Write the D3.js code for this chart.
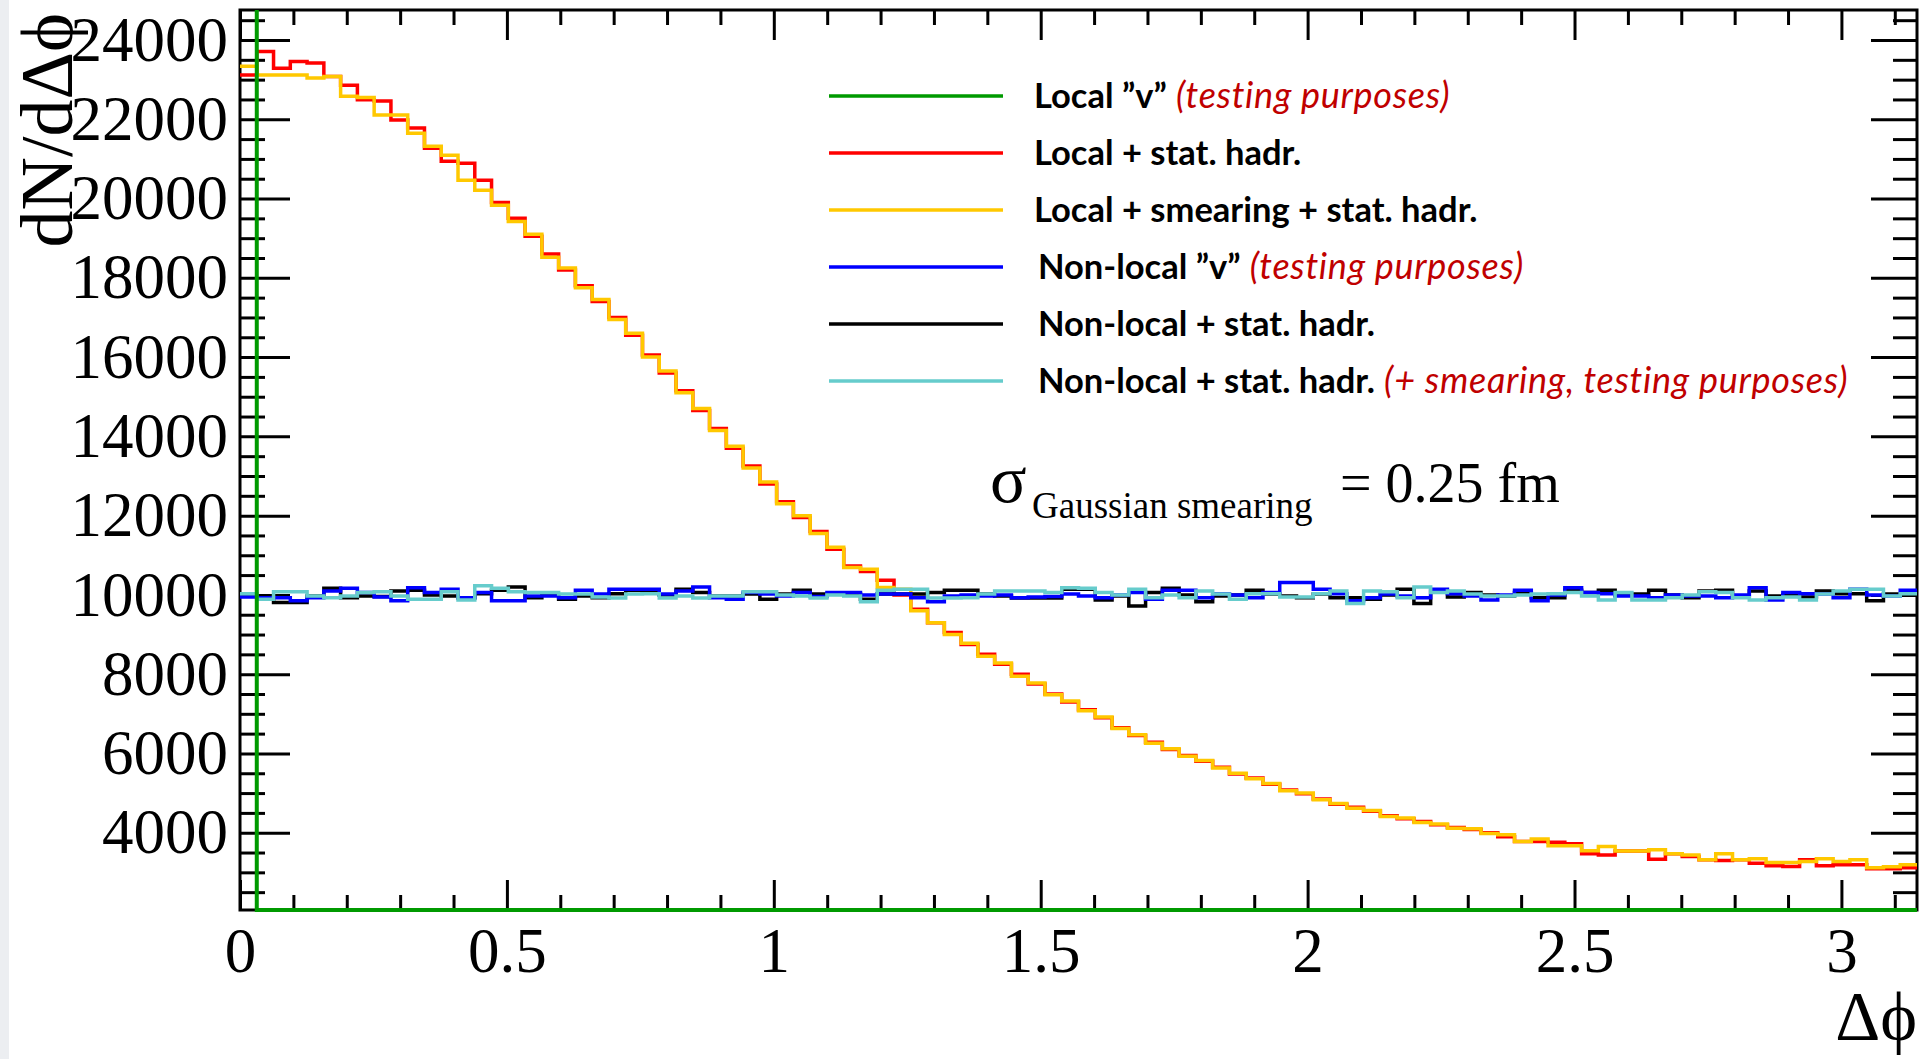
<!DOCTYPE html>
<html>
<head>
<meta charset="UTF-8">
<title>dN/dΔϕ</title>
<script src="https://d3js.org/d3.v7.min.js"></script>
<style>
  body { margin: 0; background: #fff; }
  svg { display: block; }
  .serif { font-family: "Liberation Serif", "DejaVu Serif", serif; }
  .leg { font-family: Lato, "Open Sans", sans-serif; font-weight: bold; font-size: 34.5px; }
  .leg .note { fill: #c00000; font-weight: normal; font-style: italic; font-size: 36px; letter-spacing: 0.7px; }
</style>
</head>
<body>
<div id="chart"></div>
<script>
// histogram binning: 100 bins in [0, pi]
const nBins = 100, phiMin = 0, phiMax = Math.PI;

// Local "v": everything sits in the first bin
const localV = [1000000,
  0,0,0,0,0,0,0,0,0,0, 0,0,0,0,0,0,0,0,0,0, 0,0,0,0,0,0,0,0,0,0,
  0,0,0,0,0,0,0,0,0,0, 0,0,0,0,0,0,0,0,0,0, 0,0,0,0,0,0,0,0,0,0,
  0,0,0,0,0,0,0,0,0,0, 0,0,0,0,0,0,0,0,0,0, 0,0,0,0,0,0,0,0,0,0,
  0,0,0,0,0,0,0,0,0];

const localStat = [
  23120, 23710, 23290, 23460, 23420, 23080, 22860, 22490, 22460, 21980,
  21780, 21270, 20940, 20890, 20460, 19900, 19500, 19050, 18600, 18200,
  17800, 17400, 17000, 16550, 16050, 15600, 15150, 14650, 14200, 13700,
  13250, 12800, 12350, 11950, 11600, 11150, 10730, 10590, 10370, 10000,
  9640, 9300, 9050, 8750, 8500, 8250, 8000, 7750, 7500, 7300,
  7100, 6900, 6650, 6450, 6280, 6100, 5950, 5800, 5650, 5480,
  5380, 5220, 5080, 4980, 4850, 4720, 4640, 4540, 4430, 4350,
  4280, 4200, 4130, 4080, 4000, 3900, 3780, 3780, 3760, 3720,
  3470, 3440, 3540, 3540, 3330, 3470, 3400, 3320, 3300, 3320,
  3230, 3165, 3150, 3320, 3165, 3190, 3190, 3090, 3090, 3115];

const localSmearStat = [
  23340, 23120, 23120, 23120, 23040, 23080, 22580, 22550, 22110, 22110,
  21650, 21320, 21090, 20460, 20210, 19830, 19420, 19100, 18520, 18250,
  17750, 17450, 16950, 16600, 16000, 15650, 15100, 14700, 14150, 13750,
  13200, 12850, 12300, 12000, 11550, 11200, 10690, 10650, 10185, 10140,
  9600, 9300, 9000, 8780, 8450, 8280, 7950, 7780, 7480, 7320,
  7080, 6920, 6630, 6470, 6260, 6120, 5930, 5820, 5630, 5500,
  5360, 5240, 5060, 5000, 4830, 4740, 4620, 4560, 4410, 4370,
  4260, 4220, 4110, 4100, 3980, 3950, 3780, 3840, 3670, 3670,
  3545, 3655, 3540, 3540, 3570, 3470, 3440, 3317, 3470, 3317,
  3340, 3250, 3250, 3275, 3340, 3275, 3317, 3115, 3140, 3190];

const nonlocalV = [
  9950, 9930, 9930, 9850, 9930, 10100, 10170, 10060, 9950, 9850,
  10180, 10060, 10140, 9930, 10060, 9850, 9850, 9970, 9970, 9930,
  10120, 10020, 10140, 10140, 10140, 10020, 10100, 10200, 9930, 9890,
  10060, 10020, 9970, 10060, 9960, 10060, 10060, 10000, 10020, 10020,
  9930, 9830, 9970, 10000, 9970, 10000, 9930, 9950, 9960, 10020,
  9970, 9930, 10000, 10060, 9890, 10120, 10120, 9930, 10030, 10000,
  9930, 10060, 10310, 10310, 10140, 10030, 9850, 9930, 10020, 9970,
  9930, 10140, 10030, 9970, 9870, 10000, 10120, 9850, 10000, 10180,
  10060, 10030, 9970, 9970, 9930, 10000, 9970, 9970, 9930, 10000,
  10180, 9870, 10060, 10030, 10020, 9930, 10140, 10000, 9970, 10120];

const nonlocalStat = [
  9970, 9960, 9810, 9810, 9970, 10170, 9930, 9970, 9960, 10100,
  10120, 10000, 9970, 9930, 10030, 10120, 10200, 9930, 10000, 9890,
  9970, 9930, 10030, 10120, 10060, 10000, 10140, 10060, 9970, 9970,
  10020, 9890, 10020, 10120, 10020, 10020, 10020, 9890, 10020, 10020,
  10020, 10060, 10120, 10120, 10020, 9970, 9920, 9920, 9920, 10140,
  10140, 9870, 9970, 9720, 10060, 10170, 10000, 9830, 9970, 10000,
  10120, 10020, 9970, 9930, 10020, 9930, 9930, 9890, 10000, 10140,
  9780, 10100, 9950, 10060, 10000, 9970, 10060, 9930, 9930, 10120,
  10060, 10120, 10000, 10020, 10120, 10000, 9930, 10100, 10120, 9970,
  10100, 9970, 10000, 9950, 10100, 10030, 10030, 9850, 10020, 10030];

const nonlocalStatSmear = [
  10030, 9890, 10080, 10080, 9970, 9930, 9970, 10060, 10080, 9970,
  9890, 9890, 10080, 9870, 10230, 10170, 10080, 10060, 10060, 10020,
  10020, 9950, 9920, 10020, 10030, 9920, 9970, 9920, 9970, 9970,
  10080, 10080, 10000, 9970, 9920, 10000, 9970, 9830, 10120, 10140,
  10140, 9920, 9920, 9930, 10020, 10100, 10100, 10100, 10060, 10180,
  10170, 10060, 10000, 10140, 9930, 10000, 9930, 10100, 10020, 9890,
  10030, 10030, 9950, 9950, 10030, 10100, 9780, 10100, 10080, 9930,
  10200, 10060, 10100, 10020, 9970, 9970, 10000, 10020, 10030, 10060,
  9970, 9870, 10060, 9870, 9870, 9930, 10000, 10080, 10060, 9930,
  9870, 9930, 9950, 9870, 10020, 10100, 10140, 10140, 9970, 10030];

const xMajor = [0, 0.5, 1, 1.5, 2, 2.5, 3];
const xMinor = [0.1, 0.2, 0.3, 0.4, 0.6, 0.7, 0.8, 0.9, 1.1, 1.2, 1.3, 1.4,
  1.6, 1.7, 1.8, 1.9, 2.1, 2.2, 2.3, 2.4, 2.6, 2.7, 2.8, 2.9, 3.1];
const yMajor = [4000, 6000, 8000, 10000, 12000, 14000, 16000, 18000, 20000, 22000, 24000];
const yMinor = [2500, 3000, 3500, 4500, 5000, 5500, 6500, 7000, 7500, 8500, 9000, 9500,
  10500, 11000, 11500, 12500, 13000, 13500, 14500, 15000, 15500, 16500, 17000, 17500,
  18500, 19000, 19500, 20500, 21000, 21500, 22500, 23000, 23500, 24500];

const legendLabels = ["Local \u201dv\u201d", "Local + stat. hadr.", "Local + smearing + stat. hadr.",
  "Non-local \u201dv\u201d", "Non-local + stat. hadr.", "Non-local + stat. hadr."];
const legendNotes = ["(testing purposes)", "", "", "(testing purposes)", "",
  "(+ smearing, testing purposes)"];

// ---- drawing ----
const W = 1931, H = 1059;
const frameL = 240, frameR = 1917, frameT = 10, frameB = 910;

const svg = d3.select("#chart").append("svg")
  .attr("width", W).attr("height", H);

svg.append("rect").attr("width", W).attr("height", H).attr("fill", "#fff");
svg.append("rect").attr("width", 9).attr("height", H).attr("fill", "#eceef1");

const x = d3.scaleLinear().domain([phiMin, phiMax]).range([frameL, frameR]);
const y = d3.scaleLinear().domain([2050, 24757]).range([frameB, frameT]);

const defs = svg.append("defs");
defs.append("clipPath").attr("id", "frame-clip")
  .append("rect").attr("x", frameL).attr("y", frameT)
  .attr("width", frameR - frameL).attr("height", frameB - frameT + 6);

// axes: major + minor ticks, pointing into the frame
function tidy(g) {
  g.select(".domain").remove();
  g.selectAll(".tick line").attr("stroke", "#000").attr("stroke-width", 3);
  g.attr("font-family", null).attr("font-size", null);
}

const gx = svg.append("g").attr("transform", `translate(0,${frameB})`)
  .call(d3.axisBottom(x).tickValues(xMajor).tickSize(-30).tickFormat(d3.format("")))
  .call(tidy);
gx.selectAll("text").attr("class", "serif").attr("font-size", 63)
  .attr("fill", "#000").attr("y", 62).attr("dy", 0);
svg.append("g").attr("transform", `translate(0,${frameB})`)
  .call(d3.axisBottom(x).tickValues(xMinor).tickSize(-15).tickFormat(""))
  .call(tidy);
svg.append("g").attr("transform", `translate(0,${frameT})`)
  .call(d3.axisTop(x).tickValues(xMajor).tickSize(-30).tickFormat(""))
  .call(tidy);
svg.append("g").attr("transform", `translate(0,${frameT})`)
  .call(d3.axisTop(x).tickValues(xMinor).tickSize(-15).tickFormat(""))
  .call(tidy);

const gy = svg.append("g").attr("transform", `translate(${frameL},0)`)
  .call(d3.axisLeft(y).tickValues(yMajor).tickSize(-50).tickPadding(12).tickFormat(d3.format("d")))
  .call(tidy);
gy.selectAll("text").attr("class", "serif").attr("font-size", 63).attr("fill", "#000");
svg.append("g").attr("transform", `translate(${frameL},0)`)
  .call(d3.axisLeft(y).tickValues(yMinor).tickSize(-25).tickFormat(""))
  .call(tidy);
svg.append("g").attr("transform", `translate(${frameR},0)`)
  .call(d3.axisRight(y).tickValues(yMajor).tickSize(-46).tickFormat(""))
  .call(tidy);
svg.append("g").attr("transform", `translate(${frameR},0)`)
  .call(d3.axisRight(y).tickValues(yMinor).tickSize(-24).tickFormat(""))
  .call(tidy);

svg.append("rect")
  .attr("x", frameL).attr("y", frameT)
  .attr("width", frameR - frameL).attr("height", frameB - frameT)
  .attr("fill", "none").attr("stroke", "#000").attr("stroke-width", 3);

// histograms as step lines
const binW = (phiMax - phiMin) / nBins;
function steps(vals) {
  const pts = [];
  vals.forEach((v, i) => {
    pts.push([phiMin + i * binW, v]);
    pts.push([phiMin + (i + 1) * binW, v]);
  });
  return pts;
}
const line = d3.line()
  .x(d => x(d[0]))
  .y(d => Math.max(-20, Math.min(frameB, y(d[1]))));

const hists = svg.append("g").attr("clip-path", "url(#frame-clip)");
const series = [
  { vals: localStat, color: "#ff0000", w: 3.5 },
  { vals: localSmearStat, color: "#ffc800", w: 3.5 },
  { vals: nonlocalStat, color: "#000000", w: 3.5 },
  { vals: nonlocalV, color: "#0000ff", w: 3.5 },
  { vals: nonlocalStatSmear, color: "#66cccc", w: 3.5 },
  { vals: localV, color: "#009a00", w: 4 }
];
series.forEach(s => {
  hists.append("path")
    .attr("d", line(steps(s.vals)))
    .attr("fill", "none")
    .attr("stroke", s.color)
    .attr("stroke-width", s.w);
});

// axis titles
svg.append("text").attr("class", "serif")
  .attr("transform", "translate(72,13) rotate(-90)")
  .attr("text-anchor", "end").attr("font-size", 74)
  .text("dN/d\u0394\u03d5");
svg.append("text").attr("class", "serif")
  .attr("x", frameR).attr("y", 1040)
  .attr("text-anchor", "end").attr("font-size", 70)
  .text("\u0394\u03d5");

// legend
const legendColors = ["#009a00", "#ff0000", "#ffc800", "#0000ff", "#000000", "#66cccc"];
const leg = svg.append("g").attr("class", "leg");
legendLabels.forEach((lab, i) => {
  const ly = 96 + i * 57;
  leg.append("line")
    .attr("x1", 829).attr("x2", 1003).attr("y1", ly).attr("y2", ly)
    .attr("stroke", legendColors[i]).attr("stroke-width", 3.5);
  const t = leg.append("text")
    .attr("x", i < 3 ? 1034 : 1038).attr("y", ly + 12);
  t.append("tspan").text(lab);
  if (legendNotes[i]) t.append("tspan").attr("class", "note").text(" " + legendNotes[i]);
});

// smearing annotation
const ann = svg.append("g").attr("class", "serif");
ann.append("text").attr("x", 990).attr("y", 502).attr("font-size", 68).text("\u03c3");
ann.append("text").attr("x", 1032).attr("y", 518).attr("font-size", 37).text("Gaussian smearing");
ann.append("text").attr("x", 1340).attr("y", 502).attr("font-size", 56).text("= 0.25 fm");
</script>
</body>
</html>
